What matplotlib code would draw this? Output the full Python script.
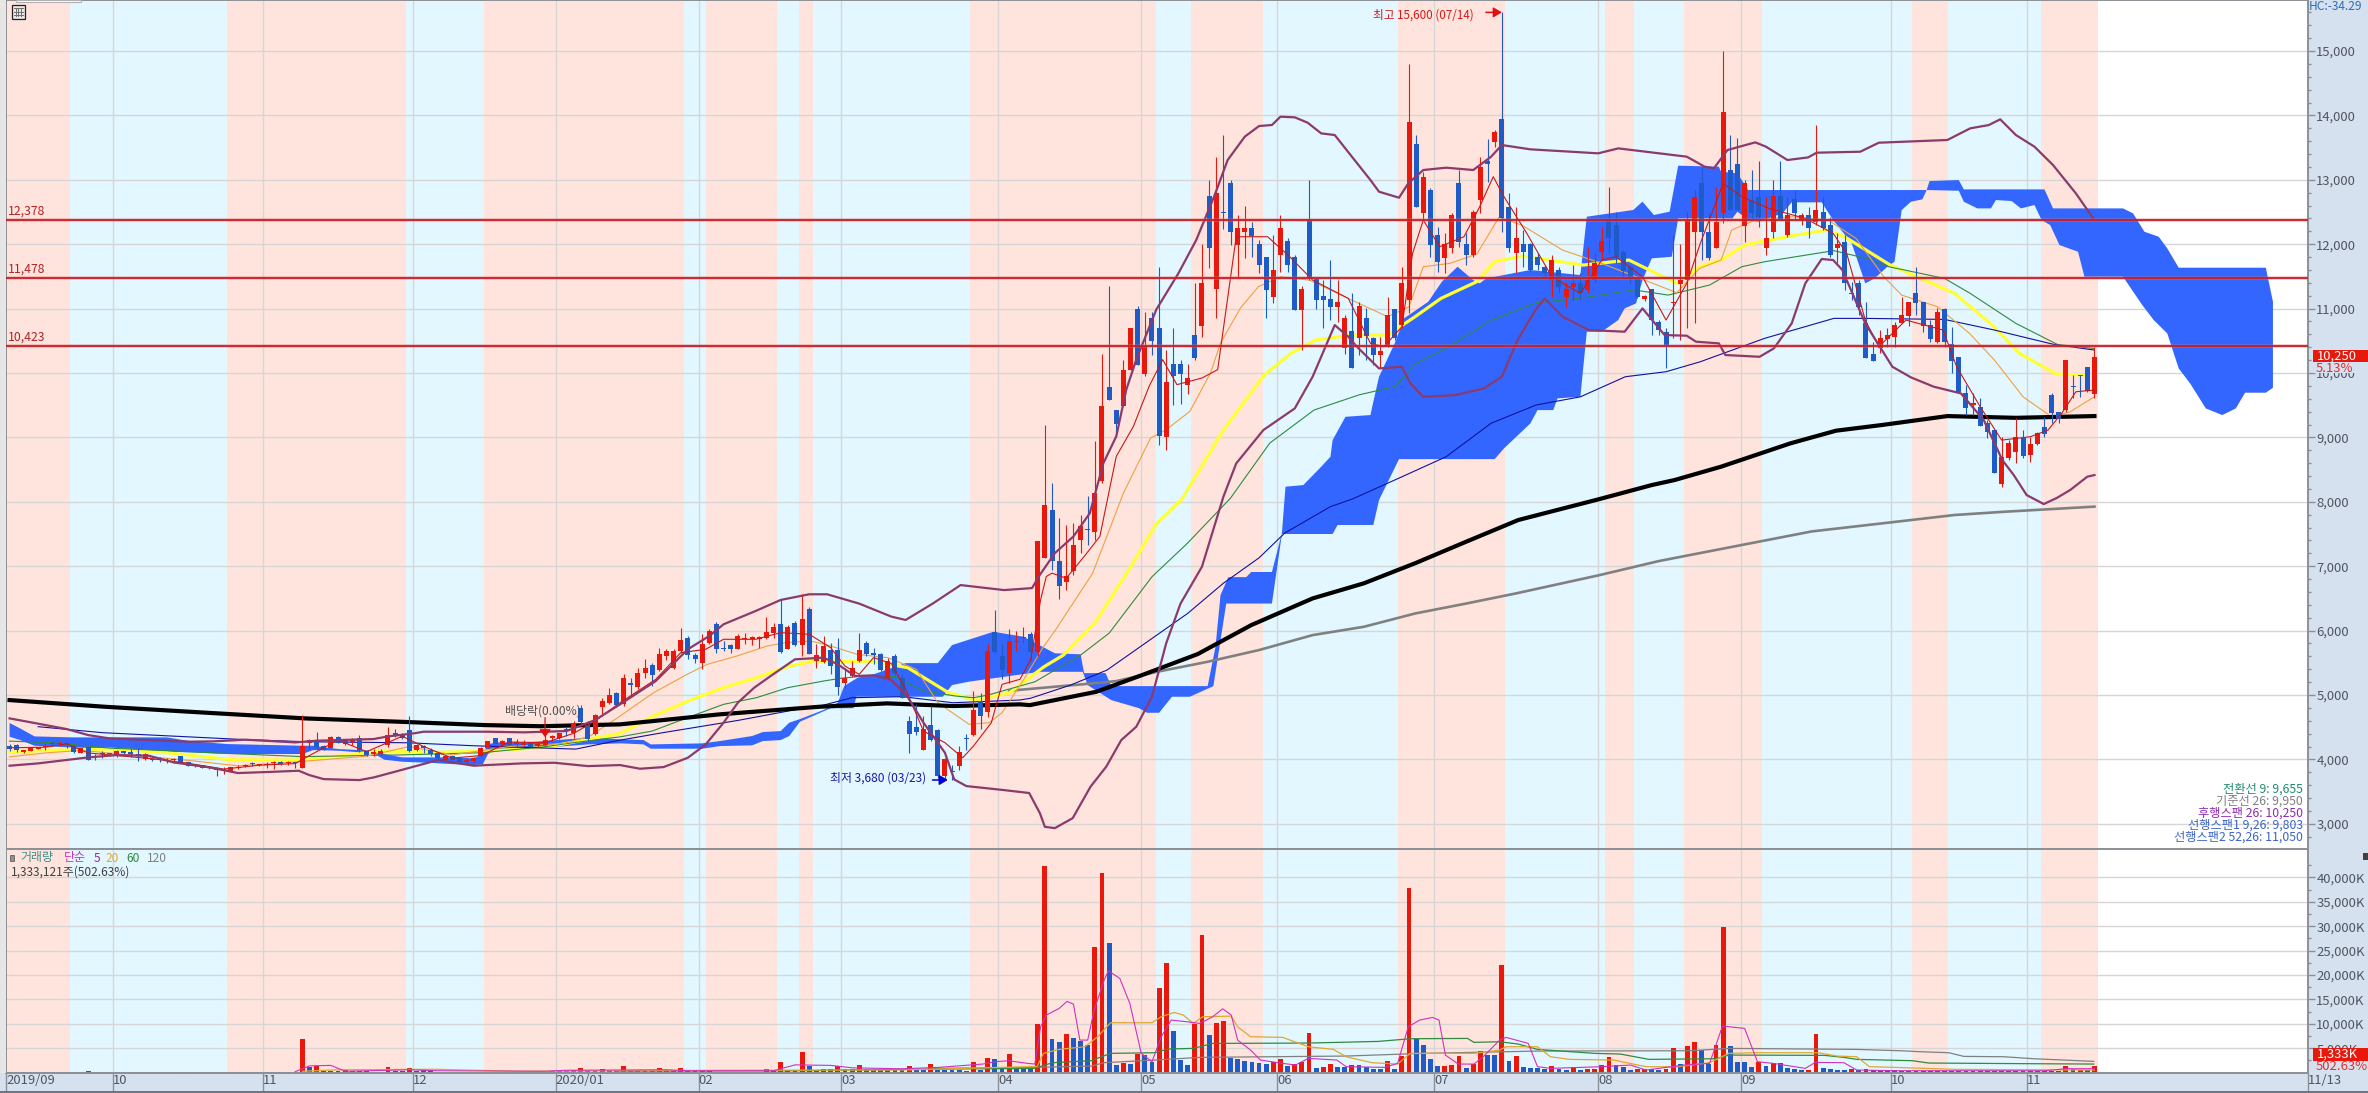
import numpy as np
import matplotlib
matplotlib.use("Agg")
import matplotlib.pyplot as plt
from matplotlib.patches import Rectangle
from matplotlib.lines import Line2D

plt.rcParams['font.family'] = ['Liberation Sans Narrow', 'Noto Sans CJK KR', 'DejaVu Sans']

# ---------- daily candles (open, high, low, close) ----------
ohlc_2019_09 = [(4212,4238,4135,4161),(4223,4238,4119,4145),(4109,4150,4100,4150),(4124,4171,4124,4171),(4155,4197,4155,4197),
 (4192,4238,4150,4212),(4254,4280,4212,4233),(4233,4290,4202,4249),(4254,4275,4181,4238),(4212,4225,4098,4119),
 (4093,4171,4093,4171),(4197,4212,3990,3990),(4031,4083,3995,4057),(4098,4135,4016,4083),(4078,4093,4050,4093)]
ohlc_2019_10 = [(4047,4140,4040,4130),(4124,4135,4080,4093),(4119,4161,4031,4078),(4083,4171,3979,4047),(4000,4100,3990,4083),
 (4005,4020,3970,3984),(3995,4031,3953,3984),(3969,4016,3943,3979),(3984,4016,3943,3995),(4047,4057,3943,3943),
 (3953,3960,3891,3891),(3891,3907,3885,3907),(3907,3915,3870,3870),(3886,3895,3850,3860),(3834,3876,3746,3845),
 (3829,3876,3777,3845),(3798,3876,3798,3876),(3865,3912,3850,3886),(3896,3930,3880,3917),(3948,3960,3891,3922),
 (3912,3935,3905,3927)]
ohlc_2019_11 = [(3907,3953,3860,3922),(3938,3979,3855,3953),(3964,3975,3915,3922),(3938,3979,3912,3953),(3953,3960,3870,3943),
 (3870,4689,3870,4202),(4254,4316,4160,4295),(4290,4420,4161,4186),(4212,4225,4150,4150),(4171,4360,4171,4342),
 (4342,4360,4250,4254),(4306,4320,4225,4238),(4264,4326,4230,4306),(4326,4378,4119,4145),(4124,4135,4050,4067),
 (4083,4161,4057,4109),(4083,4161,4067,4135),(4223,4497,4186,4378),(4404,4471,4350,4378),(4383,4410,4310,4326),
 (4456,4668,4119,4135)]
ohlc_2019_12 = [(4150,4240,4135,4228),(4212,4225,4093,4181),(4150,4171,4060,4083),(4093,4100,4010,4016),(3995,4070,3985,4047),
 (4047,4060,3985,3995),(4021,4030,3945,3953),(3964,4020,3950,3995),(3974,4031,3960,4016),(4057,4190,4045,4171),
 (4176,4285,4170,4280),(4326,4340,4235,4238),(4238,4306,4212,4280),(4326,4340,4220,4223),(4233,4316,4197,4264),
 (4223,4300,4207,4249),(4254,4270,4190,4197),(4207,4275,4190,4243),(4223,4440,4215,4300),(4326,4385,4290,4357)]
ohlc_2020_01 = [(4326,4410,4320,4404),(4477,4500,4360,4440),(4414,4596,4337,4570),(4803,4839,4544,4585),(4539,4596,4285,4311),
 (4388,4700,4380,4694),(4813,4958,4700,4901),(4880,5114,4855,4995),(5031,5050,4820,4839),(4855,5321,4829,5259),
 (5181,5269,4984,5150),(5129,5425,5088,5347),(5336,5564,5269,5414),(5461,5492,5140,5316),(5383,5735,5373,5642),
 (5606,5710,5544,5684),(5419,5710,5409,5678),(5684,6046,5658,5849),(5880,5916,5564,5616),(5616,5658,5502,5564)]
ohlc_2020_02 = [(5497,5942,5399,5787),(5813,6030,5787,5999),(6108,6134,5648,5720),(5735,5839,5683,5709),(5772,5787,5658,5709),
 (5709,5942,5709,5911),(5865,5969,5787,5891),(5865,5916,5772,5896),(5865,5916,5735,5896),(5880,6212,5865,5984),
 (5968,6124,5890,6051),(6098,6497,5648,5668),(5715,6082,5710,6062),(6119,6150,5762,5772),(5772,6570,5606,6176),
 (6331,6373,5632,5632),(5523,5787,5425,5627),(5513,5916,5503,5756),(5694,5813,5320,5450),(5704,5891,4995,5119)]
ohlc_2020_03 = [(5191,5425,5114,5259),(5295,5528,5285,5414),(5523,5958,5513,5704),(5813,5839,5606,5632),(5647,5735,5487,5616),
 (5632,5658,5373,5383),(5243,5580,5233,5533),(5606,5632,5305,5336),(5269,5321,4948,4958),(4590,4674,4093,4394),
 (4497,4855,4378,4425),(4140,4674,4140,4477),(4534,4829,4285,4300),(4451,4466,3715,3741),(3741,4020,3680,4000),
 (3810,3906,3680,3800),(3896,4207,3834,4119),(4337,4388,4150,4311),(4373,5062,4362,4767),(4901,5036,4466,4673),
 (4735,5787,4663,5684),(5984,6316,5658,5668)]
ohlc_2020_04 = [(5606,5787,5244,5383),(5336,6020,5181,5839),(5823,6000,5689,5844),(5880,6060,5806,5895),(5946,5980,5545,5671),
 (5671,7384,5600,7384),(7125,9197,7125,7954),(7876,8290,6944,7073),(7084,7747,6488,6685),(6762,7643,6633,6850),
 (6933,7669,6866,7332),(7410,7800,7203,7628),(7575,8094,7332,7555),(7524,8948,7400,8135),(8316,10300,8290,9492),
 (9782,11357,9575,9575),(9430,9430,9068,9213),(9492,10207,9492,10052),(10041,10700,10041,10700),(11000,11046,10130,10130)]
ohlc_2020_05 = [(9990,10948,9948,10425),(10855,10948,10285,10492),(10693,11650,8880,9026),(9010,10356,8803,9864),(10140,10700,9500,9948),
 (10140,10207,9513,9990),(9819,10145,9679,9922),(10596,11400,10197,10233),(10729,12000,10560,11392),(12748,12996,11625,11935),
 (11298,13348,10848,12800),(12500,13695,12230,12490),(12955,12996,11987,12194),(11987,12453,11495,12246),(12194,12593,11780,12246),
 (12246,12350,11805,12127),(12002,12065,11547,11676),(11805,11805,10848,11288),(11184,12142,11091,11599)]
ohlc_2020_06 = [(11832,12453,11573,12246),(12049,12090,11573,11676),(11805,11830,10977,10977),(10977,11350,10356,11298),(12375,12996,11443,11469),
 (11454,11480,11000,11132),(11195,11443,10693,11132),(11148,11754,10822,11029),(11029,11443,10796,11096),(10382,10900,10300,10848),
 (10651,11236,10082,10082),(10537,11100,10280,11039),(10848,11003,10200,10574),(10537,10560,10123,10278),(10278,10563,10070,10340),
 (10408,11184,10408,10900),(10988,11000,10510,10537),(10744,11650,10693,11392),(11132,14798,10925,13892),(13556,13695,12582,12582),
 (12479,13126,12375,13048),(12841,12880,11805,11987)]
ohlc_2020_07 = [(12142,12270,11573,11728),(11780,12168,11547,11997),(11935,12480,11857,12453),(12945,13152,11961,12039),(11997,12168,11676,11832),
 (11832,12530,11805,12494),(12686,13359,12479,13193),(13291,13640,12970,13245),(13592,13773,13514,13737),(13944,15600,12194,12401),
 (12582,12790,11880,11935),(11857,12582,11547,12090),(11997,12220,11650,11883),(11997,12020,11573,11599),(11805,11857,11599,11676),
 (11650,11676,11495,11547),(11443,11832,11184,11754),(11599,11650,11236,11340),(11184,11417,11029,11298),(11340,11676,11132,11392),
 (11392,11547,11132,11236),(11288,11960,11236,11443),(11443,11857,11417,11702)]
ohlc_2020_08 = [(11883,12272,11754,12049),(12365,12893,11857,12090),(12297,12505,11702,11805),(11883,11910,11495,11588),(11650,11676,11392,11495),
 (11454,11454,11158,11184),(11143,11210,11120,11195),(11298,11298,10590,10822),(10796,10822,10590,10667),(10641,10693,10082,10434),
 (11090,12142,10537,11100),(11380,12002,10517,11443),(11443,12505,10693,12375),(12194,12840,10780,12738),(12945,13204,11754,12194),
 (12194,12479,11754,11780),(11935,12893,11935,12339),(12479,15000,12323,14047),(13152,13695,12531,12531),(13245,13644,12531,12531)]
ohlc_2020_09 = [(12282,12996,12038,12945),(12686,13152,12375,12479),(12738,13291,12272,12427),(11935,12738,11832,12090),(12194,12996,12090,12748),
 (12748,13291,12375,12375),(12142,12738,12116,12453),(12696,12841,12375,12479),(12375,12479,12297,12453),(12453,12582,12090,12246),
 (12349,13850,12297,12531),(12505,12738,12220,12246),(12297,12427,11805,11832),(11935,12168,11702,11997),(12039,12142,11288,11392),
 (11240,11417,11132,11230),(11392,11443,10900,11029),(10781,11107,10227,10227),(10289,10486,10190,10190),(10382,10667,10304,10537),
 (10527,10693,10408,10589)]
ohlc_2020_10 = [(10563,10796,10408,10744),(10781,11184,10770,10900),(10884,11096,10729,11096),(11236,11650,10900,11091),(11096,11096,10640,10729),
 (10744,10822,10485,10527),(10485,11003,10460,10951),(10988,11003,10408,10485),(10444,10719,9993,10190),(10242,10242,9709,9709),
 (9683,9812,9347,9450),(9502,9683,9347,9538),(9465,9605,9176,9176),(9227,9269,8984,9088),(9114,9114,8440,8451),
 (8275,9010,8233,8689),(8673,8958,8648,8906),(8777,9295,8596,9010),(8984,9114,8673,8715)]
ohlc_2020_11 = [(8725,9010,8622,8896),(8891,9088,8880,9062),(9165,9320,9010,9052),(9657,9683,9227,9383),(9398,9398,9217,9279),
 (9424,10201,9398,10201),(9790,9968,9605,9780),(9968,9968,9631,9960),(10097,10097,9709,9725),(9673,10408,9606,10250)]

# ---------- volume, in thousands of shares, one per candle ----------
volume_k = [150,120,130,100,110,120,100,90,120,150,130,400,150,120,110,120,130,100,110,120,150,110,100,120,110,130,100,120,110,100,
 150,180,130,120,110,100,130,150,110,120,100,6900,1160,1360,300,350,300,550,300,250,250,200,200,1160,300,250,950,300,550,250,
 150,160,150,140,170,150,140,160,150,130,150,140,160,150,140,150,250,300,300,550,950,400,350,820,400,400,1360,450,450,350,
 300,950,300,350,950,550,350,250,250,200,210,190,220,200,210,190,750,450,2180,500,550,4230,1360,600,700,800,1360,700,800,1570,
 800,700,750,800,800,700,1400,500,500,1700,600,500,500,500,450,2200,500,3000,2800,1100,3800,900,900,1200,9960,42300,6900,6300,7900,7100,
 6500,5600,25700,40850,26500,1570,2050,1770,3800,3600,2200,17300,22400,8500,2600,1570,9960,28200,7700,10160,10570,3000,2800,2400,2200,2000,1770,2200,2800,1360,
 1770,2200,8100,950,1160,1770,1160,1160,1570,1570,1160,820,820,2390,820,3400,37800,6900,5660,2800,1360,1360,1570,3400,950,1770,4430,3600,3600,22000,
 2390,3400,1160,950,950,820,1360,820,610,1160,610,750,750,1570,3200,1570,1090,610,750,820,750,610,820,5050,1770,5460,6270,4640,1770,5660,
 29800,5460,2180,2180,1160,2180,1360,1980,1980,950,750,610,610,7900,950,750,550,550,750,550,680,550,550,480,480,300,410,350,300,320,
 410,300,350,320,280,300,320,300,350,300,280,320,300,280,300,320,300,300,1360,680,550,550,1333]
vol_red_days = [11,41,43,47,53,56,80,83,86,91,94,106,108,111,116,119,126,129,135,137,140,144,145,148,152,153,156,158,161,162,166,167,169,170,177,178,180,181,182,184,
 185,188,193,195,196,201,202,203,205,206,209,211,216,219,221,222,223,224,228,229,232,233,235,236,239,240,245,247,252,253,258,260,262,265,266,268,270,272,274,276,279,281,284,286,288,290,292]

# ---------- moving averages and bands, read at day positions ----------
ma5_days = [0,5,8,11,15,20,25,30,35,40,42,46,50,55,58,62,66,70,75,79,82,85.5,90.5,94,97.5,100,104.5,108,112,115,117,119,121,123.5,125.5,128,131,133.5,135,137.5,139,141.5,143,144.4,145.2,146,148,150.5,152.7,155,157.4,159.6,161.5,163.5,167,169.2,171.8,176.2,179.3,182.5,187.5,190.6,192.5,195,196.5,198,200.3,203.7,205.9,207.8,209.3,212.5,216,220,223,225,228.7,232,234.9,236.8,240,242.6,246.4,251.5,255.4,257.3,259.9,261.8,265.6,270.8,272.7,276,279,283,285.5,287.4,289.4,292]
ma5_vals = [4180,4190,4240,4100,4060,4010,3940,3850,3910,3935,4060,4300,4120,4360,4200,4020,4060,4270,4260,4404,4596,4880,5243,5657,5710,5865,5865,5968,5943,5735,5450,5321,5580,5490,5088,4440,4259,4026,4207,4570,5165,5243,5542,6478,6840,6892,6814,7150,7462,8705,9171,9793,10207,9819,9922,10052,12116,12116,11805,11443,11158,10460,10408,10719,11857,12375,11961,12116,12582,13048,12738,12168,11495,11236,11754,11805,11495,10822,11392,12013,12945,12738,12556,12401,12168,11857,10822,10408,10822,10667,10097,9476,8958,9010,9114,9372,9709,9735]

ma20_days = [0,5,10,25,32,40,50,56,62,70,77.7,81.3,85.5,90.2,94.9,97.7,101.9,106.1,108.8,112.2,115,118.7,123,127,130,134.4,137.2,139,142,144.8,146.5,151.7,156,159.8,162,165.3,168.2,169.6,172.4,174.9,178,182,188,193,196,198,201.7,205.5,208.6,211.8,217.5,223,233.5,236.7,239.7,241.2,244.5,249.6,254.7,258.6,262.5,265,270,274.5,278,282,286,288.6,292]
ma20_vals = [4040,4100,4140,3985,3900,3960,4050,4200,4070,4200,4249,4363,4673,5036,5321,5476,5606,5761,5813,5839,5761,5632,5580,5399,4881,4544,4570,4725,5233,5749,6011,6892,8135,8990,9120,9404,10000,10466,11010,11340,11495,11443,11132,10874,11029,11650,11702,11847,12417,12297,11909,11702,11247,11625,11754,12220,12375,12427,12375,12090,11495,11210,11029,10615,10200,9631,9320,9398,9631]

ma60_days = [0,5,14,22,31,40,46,52,60,67,75,85.5,90.2,95,100,104.6,109,112.5,116.8,120.6,125.8,131.5,135.3,140,144.8,147.6,152,157,160.5,164.2,170,175.7,179.4,182.9,188,193,196.8,200.5,205.5,208,211.8,220.4,226.8,233.5,236.7,239.7,243,249.4,254.6,257,263.4,268.7,272.4,277.7,281.5,286.7,291]
ma60_vals = [4110,4140,4160,4105,3995,3990,4050,4130,4110,4130,4186,4404,4673,4906,5114,5269,5440,5528,5518,5528,5424,5036,4921,5030,5433,5620,6117,6987,7640,8043,9113,9968,10300,10512,10590,10590,10870,11160,11418,11730,11816,11676,11754,11392,11650,11754,11987,12127,12220,12116,11676,11418,11236,10744,10304,9983,9968]

ma120_days = [0,6,14,27,41,55,66,75,79,85.5,90,95,100,104.6,109,114,116.4,120.6,124,128,132.5,135,137,143.6,150,154,160,165,171,176.5,182.7,189,194,197,201.5,207.5,213.8,220,227.5,232.3,238.1,242.6,245.8,255.5,260,263.2,271,274.6,281,286.8,292]
ma120_vals = [4284,4260,4175,4110,4043,4070,4103,4197,4260,4350,4440,4650,4855,4958,5114,5217,5259,5305,5285,5062,4984,4958,4998,5205,5620,5960,6836,7360,8057,8912,9425,9660,9790,10150,10405,10822,11090,11160,11290,11210,11366,11650,11728,11900,11780,11650,11469,11236,10770,10444,10380]

ma240_days = [4,13,32.3,41.5,55.8,65,79.3,85,91.5,102,110.7,113.5,118,125.1,132.1,141.5,143,148.6,153.7,165,170,175,178.6,185,188,195,201.2,207.5,213.8,220,226.3,232,236.8,239.4,245.8,255.5,260,271,278,286.3,292]
ma240_vals = [4508,4415,4311,4274,4258,4212,4160,4289,4415,4605,4785,4829,4958,4974,4880,4922,4950,5154,5387,6267,6735,7130,7515,7925,8040,8388,8700,9220,9503,9630,9942,10020,10175,10280,10538,10848,10848,10832,10667,10444,10356]

black_days = [0,13.4,27.7,41.5,55.8,66.5,74.4,85.5,99.5,113.5,122.9,132.1,141.5,142.9,152.2,158.6,166.4,173.9,182.5,189.7,196.9,204,211.3,222.7,230,233.2,239.7,249.4,255.8,262.2,271.4,281,292]
black_vals = [4921,4817,4724,4636,4580,4533,4515,4544,4700,4818,4870,4829,4855,4843,5050,5309,5635,6085,6500,6735,7048,7380,7717,8043,8260,8338,8545,8907,9104,9192,9331,9304,9331]

gray_days = [140,152,155,160.7,167.8,175,182.5,189.7,196.9,204,211,222.7,231,252.4,265,272.4,279.3,292]
gray_vals = [5066,5183,5216,5360,5516,5698,5930,6060,6267,6420,6578,6862,7080,7540,7700,7795,7845,7925]

bb_up_days = [0,3.5,8,11,14,25,28.5,33,40,43,51,53,56.6,58,67,72,78,82,85.5,90.5,95,98,100,104.5,108,112,114.5,119,123.5,125.5,129.3,133.2,139.3,143.2,144.3,146.4,149,151.3,153.2,155,156.4,157.8,160.6,163.7,166.2,168.7,170.6,173,175,176.8,178,180,181.8,183.7,185.6,188,190.6,191.8,194.6,195.9,198,201.2,205,207.5,209,213,218.7,222.5,225.3,234.9,237.4,238.7,240.6,242.6,244.5,246,249,251.9,253.1,259.2,261.8,271.4,274.6,277.2,278.8,281,283.6,286.2,289.4,292]
bb_up_vals = [4637,4565,4471,4378,4326,4275,4280,4306,4264,4290,4316,4357,4404,4430,4430,4420,4440,4611,4855,5217,5710,5917,6098,6305,6476,6564,6564,6419,6217,6165,6420,6707,6629,6660,6866,7203,7462,7824,8601,9016,9741,10207,10984,11547,12065,12738,13307,13670,13835,13851,13980,13970,13887,13721,13695,13359,12996,12815,12722,12945,13152,13188,13152,13359,13540,13473,13436,13411,13488,13359,13204,13178,13462,13524,13581,13514,13307,13348,13421,13436,13576,13618,13799,13850,13939,13695,13514,13229,12789,12375]

bb_lo_days = [0,4,11,15,19.5,23,28,32,37,40.5,42,44,49,51,54.5,60,65,71.7,76.3,81,85.5,88.3,91.6,95,97.5,100,102,104.3,106.6,110,114,116,118.4,121,123.4,125.7,128,131,132.3,134,139.3,142.8,144.3,145,146.4,148.9,151.4,153.6,155.7,157.8,160,162,164,167,170,171.8,175.6,180,182.5,185.6,187.5,188.7,191.8,195,196.2,198,202.5,206.5,209,211.2,213.7,215,217.5,221.2,226.2,228.7,231.8,234.9,236.2,239.4,240.3,245.1,247.1,249.6,251.5,253.8,255.4,256.7,259.9,263.7,266.3,269.5,273.3,276.5,279.1,280.7,282.5,284.9,286.7,288.6,291,292]
bb_lo_vals = [3902,3938,4031,4067,4057,3953,3876,3788,3808,3824,3756,3694,3679,3720,3824,3990,3902,3938,3948,3896,3912,3855,3881,4026,4233,4570,4881,5114,5295,5554,5580,5476,5295,5305,5243,4984,4570,4104,3689,3586,3523,3478,3166,2953,2933,3088,3577,3888,4300,4507,4973,5806,6420,6992,8078,8596,9114,9450,9942,10744,10563,10408,10071,10097,9838,9631,9657,9761,9942,10511,10977,11158,10874,10667,10641,11003,10589,10579,10486,10460,10279,10252,10382,10770,11391,11770,11754,11599,10770,10097,9932,9787,9683,9269,8648,8415,8105,7965,8058,8183,8390,8415]

# ---------- ichimoku cloud edges ----------
cloud_top_days = [0,1.5,3.5,8.8,16,22,25.5,30.6,41,42.5,46,51,52.5,55,59.5,62,65,66.3,67,68.5,72.5,81,85.6,88.8,89.8,97,99.5,104,105.5,108,109.2,110.6,114,116,116.9,118.8,121,125.5,130,132,137.8,142,146.4,150,150.5,153.5,154.3,167.8,168.9,169.6,170.7,173.2,173.9,176.8,178.2,178.7,181.2,183.7,185,185.3,187.1,190.6,190.9,191.8,194,195.3,198.7,200.6,202.8,205,205.9,206.8,213,220,220.9,227.4,228.7,230.3,232.5,233.7,239.4,239.7,242,243.5,268.5,268.9,273,273.7,285,286.2,296,297.4,299,301,302.2,303.8,316,317]
cloud_top_vals = [4565,4480,4357,4342,4342,4342,4280,4238,4212,4212,4161,4135,4083,4031,4031,4031,4016,4083,4238,4264,4264,4337,4311,4300,4233,4249,4285,4363,4425,4440,4570,4622,4767,4880,5140,5269,5321,5495,5495,5775,5982,5905,5648,5632,5340,5340,5138,5138,5749,6552,6830,6830,6910,6910,7515,8234,8260,8544,8700,8958,9320,9347,9502,9942,10460,10848,11107,11417,11650,11443,11391,11469,11599,11521,12427,12531,12660,12453,12505,13219,13204,13126,13100,12841,12841,12980,12996,12851,12851,12556,12556,12479,12194,12116,11935,11635,11635,11107]
cloud_bot_days = [0,1.5,3.5,8.8,16,22,25.5,30.6,41,42.5,46,51,52.5,55,59.5,62,65,66.3,67,68.5,72.5,81,85.6,88.8,89.8,97,99.5,104,105.5,108,109.2,110.7,115,118.2,118.6,130.7,132,134.3,139.3,144.3,150.3,151,154.3,158.2,159.3,161,162.8,165.3,168.6,170.4,176.8,178.2,185.3,186,191,191.8,194.6,208,209.3,213,214,216.2,216.8,220,220.9,223,225.3,226.2,227.8,228.7,230,232.8,233.7,241.3,242,243.5,245,248.3,249.6,253.8,255.4,258,259.9,261.2,263,264,265,266.3,267.9,268.5,273,273.7,275.6,277.5,278.2,280.4,281.7,283.6,284.6,285.8,287.1,289.7,290.6,296,298.7,300.3,302.2,303.8,305.4,307.6,309.9,311.8,313.1,316,317]
cloud_bot_vals = [4352,4300,4212,4186,4161,4119,4109,4083,4083,4145,4135,4093,3995,3964,3943,3927,3912,3927,4083,4161,4161,4233,4249,4233,4166,4166,4207,4218,4285,4300,4363,4585,4795,4795,4973,4973,5154,5206,5283,5360,5360,5154,4921,4795,4724,4724,4973,4973,5138,6420,6420,7500,7500,7640,7640,8027,8663,8663,8829,9217,9424,9424,9606,9631,10641,10641,10822,11003,11081,11443,11780,11805,12401,12401,12505,12375,12349,12479,12650,12650,12375,12013,11392,11469,11650,11728,12530,12660,12696,12841,12830,12660,12556,12556,12686,12670,12556,12608,12375,12297,11987,11883,11495,11495,11055,10822,10615,10071,9838,9450,9347,9450,9694,9694,9771]

# ---------- volume averages ----------
vma5_days = [40,42,45,47,56,60,75,78,92,95,107,110,115,118,125,130.1,136.3,138.1,139.9,142.6,143.6,144.4,145.2,147,148.1,149,149.9,151,151.9,153.3,153.9,155.5,156.9,158.5,160,161.3,162.7,164.9,166.7,168.5,169.9,171.1,172,173.8,175.2,178.3,180.1,181.9,185.9,187.2,192.6,194.4,195.9,197.5,199.3,200.2,201.1,202.9,205.1,206.4,208.7,209.6,212.7,214,215.8,223,227,229.2,234.6,238.1,239.9,243,244.8,247,251.5,252.9,256.9,258.7,264,285,288,292]
vma5_vals = [200,1400,1500,300,600,400,300,500,600,400,400,1600,1500,1000,800,1090,1770,2250,2455,1910,1770,9410,11800,13160,14600,14050,6680,6680,12820,18960,20870,19300,14190,3960,2250,7370,10780,10430,10090,11460,13090,11800,6680,4640,2590,1910,1570,2930,2590,1230,1090,1910,9410,10780,11320,10780,3610,1770,1770,3270,6680,7230,6000,1230,890,1230,1570,550,1570,1910,9550,9070,2250,1910,890,2110,2050,550,410,400,820,820]
vma20_days = [41,46,60,65,72,78,100,124.7,142.6,143.9,144.8,147,150.6,152.4,154.2,160,161.3,163.1,164.4,165.8,167.1,171.1,172,173.8,178.3,181.9,185.4,187.2,190.8,194.4,196.2,205.1,208.7,209.6,214,215.8,218.5,224.7,229.2,233.7,238.1,240.8,244.4,253.3,256,258.7,260.5,264,272.7,292]
vma20_vals = [300,600,700,500,300,350,500,550,1230,1230,3960,4770,5320,7370,10230,10230,11460,12340,11800,10090,11460,11590,9410,7370,7230,5320,4770,3270,2050,1770,3960,3960,4640,5320,5320,3270,2730,2590,1230,1230,2050,3960,4090,4090,3410,3270,1230,1090,680,550]
vma60_days = [85,110,124.7,143.5,146.1,151.5,154.2,160.4,162.2,165.8,168.5,181.9,191.7,196.2,204.2,205.1,208.7,211.3,214,222,225.6,229.6,239,240.8,254.2,256.9,258.7,264.7,266.5,268.8,283.5,291.9]
vma60_vals = [350,400,680,890,2050,2460,3960,4090,4840,4980,6000,6070,6410,6960,7020,6210,6340,5870,4770,3960,3820,2730,2860,3610,3550,3140,2730,2520,2460,1980,1840,1770]
vma120_days = [129.2,143.5,151.5,153.3,160.4,166.7,187.2,197.9,214,235.5,240.8,258.7,264.7,267.6,271.6,273.7,279.3,283.5,291.9]
vma120_vals = [890,1090,1360,2050,2590,3140,3410,3960,4430,4500,4980,4770,4500,4300,4090,3340,3270,2860,2320]

# ---------- axis labels, bands, levels ----------
month_start_days = [0,15,36,57,77,97,117,139,159,178,200,223,243,264,283]
month_labels = ['2019/09','10','11','12','2020/01','02','03','04','05','06','07','08','09','10','11']
price_ticks = [3000,4000,5000,6000,7000,8000,9000,10000,11000,12000,13000,14000,15000]
vol_ticks = [5000,10000,15000,20000,25000,30000,35000,40000]
level_values = [12378,11478,10423]
level_labels = ['12,378','11,478','10,423']
pink_bands = [(0,9),(31,56),(67,95),(98,108),(111,113),(135,161),(166,176),(195,210),(224,228),(235,246),(267,272),(285,293)]
blue_bands = [(9,31),(56,67),(95,98),(108,111),(113,135),(161,166),(176,195),(210,224),(228,235),(246,267),(272,285)]

ohlc = np.array(ohlc_2019_09+ohlc_2019_10+ohlc_2019_11+ohlc_2019_12+ohlc_2020_01+ohlc_2020_02+ohlc_2020_03+
                ohlc_2020_04+ohlc_2020_05+ohlc_2020_06+ohlc_2020_07+ohlc_2020_08+ohlc_2020_09+ohlc_2020_10+ohlc_2020_11, float)
n = len(ohlc)
days = np.arange(n)
opens, highs, lows, closes = ohlc.T
vol = np.array(volume_k[:n] + [300]*(n-len(volume_k)), float)
vol_is_red = np.isin(days, vol_red_days)

W, H = 2368, 1093
X0, X1, Y_MAIN, Y_VOL = 6, 2308, 849, 1073
STEP = 7.14
BG = '#D5E1EF'
PINK, SKY = '#FFE4DD', '#E2F7FF'
RED, BLUE = '#E8190C', '#1E5BC6'
GRID = '#D6D6D6'
AXC = '#8C9095'

fig = plt.figure(figsize=(W/100, H/100), dpi=100, facecolor=BG)
ax = fig.add_axes([X0/W, 1-Y_MAIN/H, (X1-X0)/W, Y_MAIN/H])
av = fig.add_axes([X0/W, 1-Y_VOL/H, (X1-X0)/W, (Y_VOL-Y_MAIN)/H], sharex=ax)
xlim = (-0.5, (X1-X0)/STEP-0.5)
PX = 1000/64.4
ax.set_xlim(*xlim)
ax.set_ylim(15000-798*PX, 15000+51*PX)
av.set_ylim(-61, 45815)

for a in (ax, av):
    a.set_facecolor('white')
    for lo, hi in pink_bands:
        a.axvspan(lo-0.5, hi-0.5, color=PINK, lw=0, zorder=0)
    for lo, hi in blue_bands:
        a.axvspan(lo-0.5, hi-0.5, color=SKY, lw=0, zorder=0)
    for m in month_start_days[1:]:
        a.axvline(m-0.5, color=GRID, lw=1, zorder=0.6)
    for s in a.spines.values():
        s.set_color(AXC)
        s.set_linewidth(1.4)
for p in price_ticks:
    ax.axhline(p, color=GRID, lw=1, zorder=0.6)
for v in vol_ticks:
    av.axhline(v, color=GRID, lw=1, zorder=0.6)

# cloud
ax.fill(np.r_[cloud_top_days, cloud_bot_days[::-1]], np.r_[cloud_top_vals, cloud_bot_vals[::-1]],
        color='#3366FF', lw=0, zorder=1.5)

# lines beneath candles
ax.plot(gray_days, gray_vals, color='#808080', lw=1.9, zorder=2)
ax.plot(ma60_days, ma60_vals, color='#FFFF33', lw=2.3, zorder=2)
ax.plot(ma120_days, ma120_vals, color='#2E8B40', lw=0.8, zorder=2.1)
ax.plot(ma240_days, ma240_vals, color='#12129E', lw=0.8, zorder=2.1)
ax.plot(ma20_days, ma20_vals, color='#F0A040', lw=0.8, zorder=2.1)
ax.plot(black_days, black_vals, color='black', lw=3.0, zorder=2.2)

# candles
colors = np.where(closes >= opens, RED, BLUE)
ax.vlines(days, lows, highs, colors=colors, lw=0.8, zorder=3)
bottom = np.minimum(opens, closes)
height = np.maximum(np.abs(closes-opens), 16)
ax.bar(days, height, bottom=bottom, width=0.70, color=colors, lw=0, zorder=3.1)

ax.plot(ma5_days, ma5_vals, color='#C81818', lw=0.8, zorder=3.3)
ax.plot(bb_up_days, bb_up_vals, color='#8B3A6C', lw=1.6, zorder=3.4)
ax.plot(bb_lo_days, bb_lo_vals, color='#8B3A6C', lw=1.6, zorder=3.4)

# support levels
for lv in level_values:
    ax.axhline(lv, color='#F09090', lw=3.0, alpha=0.25, zorder=4)
    ax.axhline(lv, color='#C41E28', lw=1.6, alpha=0.92, zorder=4.1)

# volume bars and averages
av.bar(days, vol, width=0.68, color=np.where(vol_is_red, RED, BLUE), lw=0, zorder=2)
av.plot(vma120_days, vma120_vals, color='#808080', lw=0.9, zorder=3)
av.plot(vma60_days, vma60_vals, color='#2E8B40', lw=0.9, zorder=3)
av.plot(vma20_days, vma20_vals, color='#E0A830', lw=0.9, zorder=3)
av.plot(vma5_days, vma5_vals, color='#D030C0', lw=0.8, zorder=3)

# axes
TICK_FS = 9.4
ax.yaxis.tick_right()
av.yaxis.tick_right()
ax.set_yticks(price_ticks)
ax.set_yticklabels([f'{p:,}' for p in price_ticks])
ax.set_yticks(np.arange(2800, 15800, 200), minor=True)
av.set_yticks(vol_ticks)
av.set_yticklabels([f'{v:,}K' for v in vol_ticks])
av.set_yticks(np.arange(2500, 45000, 5000), minor=True)
for a in (ax, av):
    a.tick_params(axis='y', which='major', length=5, width=1, color=AXC, labelsize=TICK_FS, labelcolor='#505560', pad=1)
    a.tick_params(axis='y', which='minor', length=2.4, width=1, color=AXC)
ax.tick_params(axis='x', which='both', bottom=False, labelbottom=False)
av.set_xticks([m-0.5 for m in month_start_days] + [xlim[1]])
av.set_xticklabels(month_labels + ['11/13'], ha='left')
av.tick_params(axis='x', length=13.5, width=1, color=AXC, labelsize=TICK_FS, labelcolor='#505560', pad=-13)

# figure-level helpers in pixel coordinates
def ptext(x, y, s, **kw):
    kw.setdefault('va', 'center')
    kw.setdefault('fontsize', 8.6)
    return fig.text(x/W, 1-y/H, s, **kw)

def prect(x0, y0, x1, y1, **kw):
    fig.patches.append(Rectangle((x0/W, 1-y1/H), (x1-x0)/W, (y1-y0)/H, transform=fig.transFigure, **kw))

def pline(x0, y0, x1, y1, **kw):
    fig.add_artist(Line2D([x0/W, x1/W], [1-y0/H, 1-y1/H], transform=fig.transFigure, **kw))

# margins and frame
prect(0, 0, X0, Y_VOL, facecolor='#E6E6E6', edgecolor='none')
pline(0, 1092, W, 1092, color='#707478', lw=1.4)

# toolbar icons
prect(16, 0, 81, 1.5, facecolor='white', edgecolor='#B0B0B0', lw=0.8, zorder=6)
prect(11.5, 5.5, 24.5, 18.5, facecolor='#E8E8E8', edgecolor='#202020', lw=0.9, zorder=6)
for gx in (15.5, 18, 20.5):
    pline(gx, 8, gx, 16, color='#707070', lw=0.7, zorder=7)
for gy in (8, 11.5, 14.5):
    pline(13.5, gy, 22.5, gy, color='#707070', lw=0.7, zorder=7)
prect(2363, 853, 2368, 860, facecolor='#404040', edgecolor='none', zorder=6)

# level labels
for lab, y in zip(level_labels, (211, 269, 337)):
    ptext(8, y, lab, color='#B22222', fontsize=8.8)

# price marks
ptext(1373, 15, '최고 15,600 (07/14)', color='#D81818', fontsize=8.4)
ax.annotate('', xy=(209, 15600), xytext=(-11.5, 0), textcoords='offset points', zorder=6,
            arrowprops=dict(arrowstyle='-|>,head_length=0.5,head_width=0.3', color='#E01010', lw=1.1, shrinkA=0, shrinkB=0))
ptext(830, 778, '최저 3,680 (03/23)', color='#1818A8', fontsize=8.6)
ax.annotate('', xy=(131.4, 3680), xytext=(-11, 0), textcoords='offset points', zorder=6,
            arrowprops=dict(arrowstyle='-|>,head_length=0.5,head_width=0.3', color='#0000D0', lw=1.1, shrinkA=0, shrinkB=0))
ptext(505, 711, '배당락(0.00%)', color='#505050', fontsize=8.6)
ax.annotate('', xy=(75, 4347), xytext=(0, 14), textcoords='offset points', zorder=6,
            arrowprops=dict(arrowstyle='-|>,head_length=0.45,head_width=0.35', color='#E01010', lw=0.9, shrinkA=0, shrinkB=0))

# ichimoku read-out
info = [('전환선 9: 9,655', '#1E8C6E', 789), ('기준선 26: 9,950', '#808080', 801),
        ('후행스팬 26: 10,250', '#8E2AB0', 813), ('선행스팬1 9,26: 9,803', '#3C64C8', 825),
        ('선행스팬2 52,26: 11,050', '#3C64C8', 837)]
for s, c, y in info:
    ptext(2303, y, s, color=c, ha='right', fontsize=8.8, zorder=8)

# current value tags
ptext(2309, 6, 'HC:-34.29', color='#2F6DB5', fontsize=8.6)
prect(2313, 350, 2368, 362.5, facecolor=RED, edgecolor='none', zorder=6)
ptext(2317, 356.5, '10,250', color='white', fontsize=TICK_FS, zorder=7)
prect(2313, 362.5, 2368, 373, facecolor=BG, edgecolor='none', zorder=6)
ptext(2316, 368, '5.13%', color='#E03030', fontsize=TICK_FS, zorder=7)
prect(2313, 1048, 2368, 1061, facecolor=RED, edgecolor='none', zorder=6)
ptext(2317, 1054.5, '1,333K', color='white', fontsize=TICK_FS, zorder=7)
ptext(2316, 1067, '502.63%', color='#E03030', fontsize=TICK_FS, zorder=7)

# volume legend
prect(10, 855, 13.5, 861, facecolor='#909090', edgecolor='#505050', lw=0.5)
legend_items = [(20, '거래량', '#3E8E88'), (64, '단순', '#D030C0'), (94, '5', '#A020A0'),
                (106, '20', '#E0A830'), (126, '60', '#2E8B40'), (147, '120', '#808080')]
for x, s, c in legend_items:
    ptext(x, 858, s, color=c, fontsize=8.6)
ptext(11, 872, '1,333,121주(502.63%)', color='#404040', fontsize=8.6)

fig.savefig('out.png', dpi=100, facecolor=fig.get_facecolor())
